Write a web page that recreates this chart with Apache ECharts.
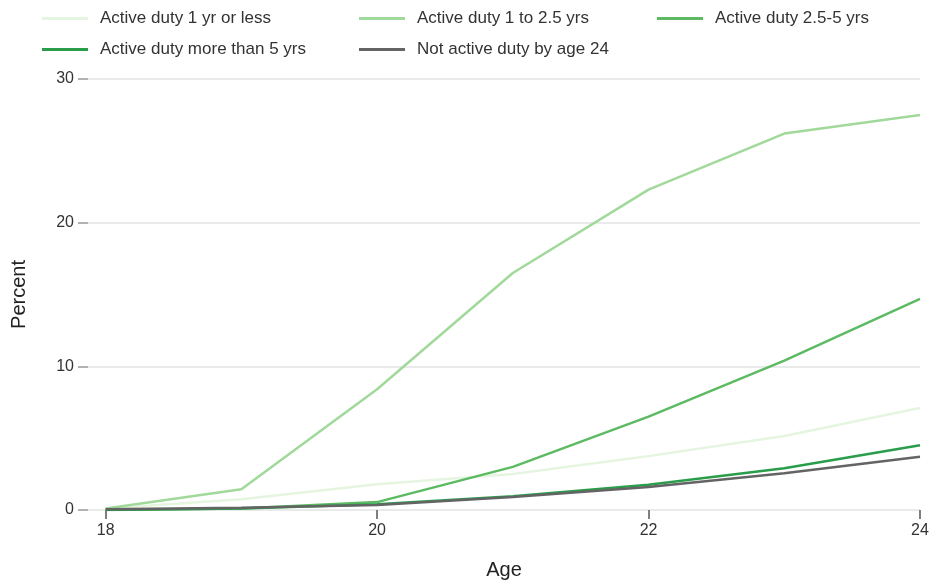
<!DOCTYPE html>
<html><head><meta charset="utf-8">
<script src="https://cdn.jsdelivr.net/npm/echarts@6/dist/echarts.min.js"></script>
<style>html,body{margin:0;padding:0;background:#fff}#c{width:935px;height:584px}</style>
</head><body><div id="c"></div>
<script>
const ages = [18, 19, 20, 21, 22, 23, 24];
const seriesNames = ['Active duty 1 yr or less','Active duty 1 to 2.5 yrs','Active duty 2.5-5 yrs','Active duty more than 5 yrs','Not active duty by age 24'];
const s1 = [0.1, 0.75, 1.8, 2.5, 3.75, 5.15, 7.1];
const s2 = [0.1, 1.45, 8.4, 16.5, 22.3, 26.2, 27.5];
const s3 = [0.0, 0.1, 0.55, 3.0, 6.5, 10.4, 14.7];
const s4 = [0.0, 0.1, 0.4, 0.95, 1.75, 2.9, 4.5];
const s5 = [0.05, 0.15, 0.35, 0.9, 1.6, 2.55, 3.7];
const yTicks = [0, 10, 20, 30];
const xTicks = [18, 20, 22, 24];
const colors = ['#e5f5e0','#a1d99b','#5cbb62','#2a9d4b','#646464'];
const values = [s1, s2, s3, s4, s5];

const font = 'Liberation Sans, Arial, sans-serif';
const legendPos = [[42,10],[359,10],[657,10],[42,41],[359,41]];
const chart = echarts.init(document.getElementById('c'), null, {renderer:'canvas'});
chart.setOption({
  animation:false,
  backgroundColor:'#fff',
  legend: seriesNames.map((n,i)=>({
    data:[n], left:legendPos[i][0], top:legendPos[i][1], padding:0,
    icon:'rect', itemWidth:46, itemHeight:3,
    textStyle:{fontFamily:font, fontSize:17, color:'#333', padding:[0,0,0,7]}
  })),
  grid:{left:88, right:15, top:79, bottom:74, outerBoundsMode:'none', containLabel:false},
  xAxis:{
    type:'value', min:17.87, max:24,
    name:'Age', nameLocation:'middle', nameGap:50,
    nameTextStyle:{fontFamily:font, fontSize:20, color:'#222'},
    axisLine:{show:false},
    splitLine:{show:false},
    axisTick:{show:true, length:9, customValues:xTicks, lineStyle:{color:'#555', width:1.5}},
    axisLabel:{customValues:xTicks, margin:13, fontFamily:font, fontSize:16, color:'#333'}
  },
  yAxis:{
    type:'value', min:0, max:30, interval:10,
    name:'Percent', nameLocation:'middle', nameGap:59, nameRotate:90,
    nameTextStyle:{fontFamily:font, fontSize:20, color:'#222'},
    axisLine:{show:false},
    axisTick:{show:true, length:10, lineStyle:{color:'#999', width:1.5}},
    splitLine:{show:true, lineStyle:{color:'#e3e3e3', width:1.5}},
    axisLabel:{margin:14, fontFamily:font, fontSize:16, color:'#333'}
  },
  series: seriesNames.map((n,i)=>({
    name:n, type:'line', showSymbol:false, symbol:'none',
    data: ages.map((a,j)=>[a, values[i][j]]),
    itemStyle:{color:colors[i]},
    lineStyle:{color:colors[i], width:2.5}
  }))
});
</script></body></html>
